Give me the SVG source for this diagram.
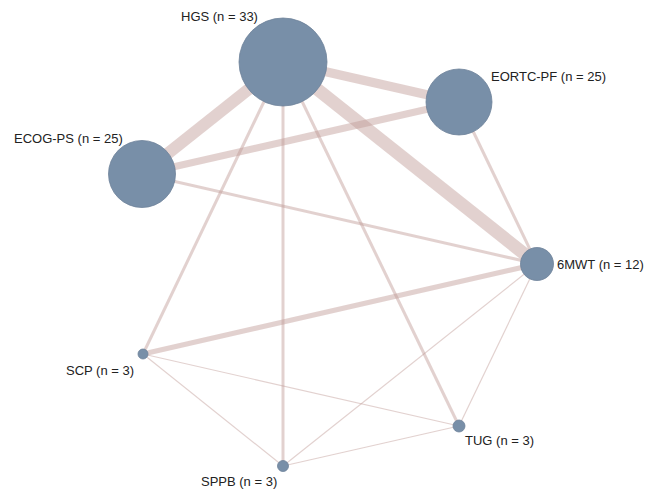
<svg xmlns="http://www.w3.org/2000/svg" width="652" height="489" viewBox="0 0 652 489">
<style>
.e{stroke:#bf9894;stroke-opacity:0.45;fill:none;stroke-linecap:butt}
.n{fill:#788fa8;stroke:#6d8299;stroke-width:0.8}
.t{font-family:"Liberation Sans",Arial,sans-serif;font-size:13px;fill:#222}
</style>
<rect width="652" height="489" fill="#fff"/>
<g id="connectors">
<line class="e" x1="283" y1="62" x2="537" y2="264" stroke-width="13"/>
<line class="e" x1="283" y1="62" x2="142" y2="174" stroke-width="12"/>
<line class="e" x1="283" y1="62" x2="459" y2="102" stroke-width="9"/>
<line class="e" x1="142" y1="174" x2="459" y2="102" stroke-width="7"/>
<line class="e" x1="142" y1="174" x2="537" y2="264" stroke-width="3"/>
<line class="e" x1="459" y1="102" x2="537" y2="264" stroke-width="3"/>
<line class="e" x1="283" y1="62" x2="143" y2="354" stroke-width="3"/>
<line class="e" x1="283" y1="62" x2="283" y2="466" stroke-width="3"/>
<line class="e" x1="283" y1="62" x2="459" y2="426" stroke-width="3"/>
<line class="e" x1="537" y1="264" x2="143" y2="354" stroke-width="5"/>
<line class="e" x1="537" y1="264" x2="283" y2="466" stroke-width="1.2"/>
<line class="e" x1="537" y1="264" x2="459" y2="426" stroke-width="1.2"/>
<line class="e" x1="143" y1="354" x2="283" y2="466" stroke-width="1.2"/>
<line class="e" x1="143" y1="354" x2="459" y2="426" stroke-width="1.2"/>
<line class="e" x1="283" y1="466" x2="459" y2="426" stroke-width="1.2"/>
</g>
<g id="HGS"><circle class="n" cx="283" cy="62" r="44"/><text class="t" x="181" y="21">HGS (n = 33)</text></g>
<g id="EORTC-PF"><circle class="n" cx="459" cy="102" r="33"/><text class="t" x="491" y="81">EORTC-PF (n = 25)</text></g>
<g id="ECOG-PS"><circle class="n" cx="142" cy="174" r="33.5"/><text class="t" x="14" y="143">ECOG-PS (n = 25)</text></g>
<g id="6MWT"><circle class="n" cx="537" cy="264" r="16.5"/><text class="t" x="557" y="269">6MWT (n = 12)</text></g>
<g id="SCP"><circle class="n" cx="143" cy="354" r="5"/><text class="t" x="66" y="375">SCP (n = 3)</text></g>
<g id="TUG"><circle class="n" cx="459" cy="426" r="6"/><text class="t" x="465" y="445">TUG (n = 3)</text></g>
<g id="SPPB"><circle class="n" cx="283" cy="466" r="5.5"/><text class="t" x="201" y="486">SPPB (n = 3)</text></g>
</svg>
